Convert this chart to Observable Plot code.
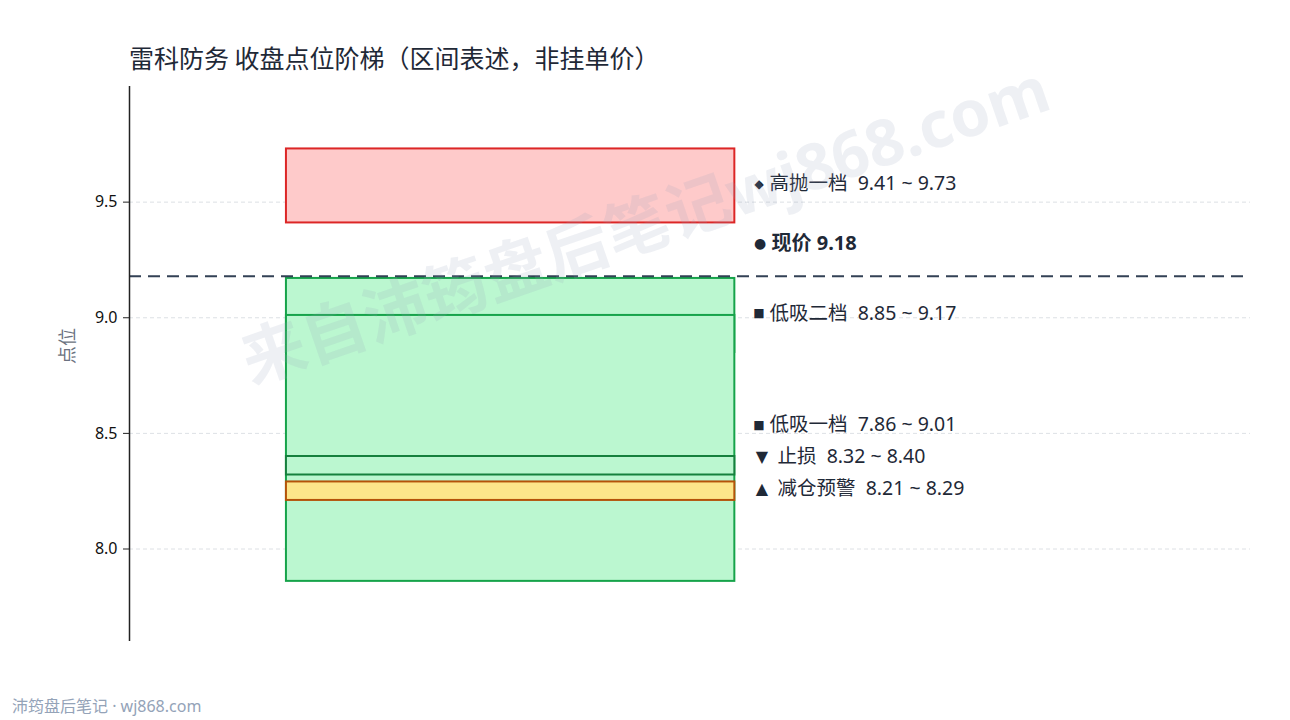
<!DOCTYPE html>
<html>
<head>
<meta charset="utf-8">
<script src="https://cdn.jsdelivr.net/npm/d3@7"></script>
<script src="https://cdn.jsdelivr.net/npm/@observablehq/plot@0.6"></script>
<style>
  html, body { margin: 0; padding: 0; background: #fff; }
  body { width: 1290px; height: 720px; position: relative; overflow: hidden;
         font-family: "Noto Sans", "Noto Sans CJK SC", sans-serif; }
  #title { position: absolute; left: 129px; top: 40px; font-size: 25px; color: #1f2937; line-height: 34px; white-space: pre;
           font-family: "Noto Sans CJK SC", sans-serif; }
  #chart { position: absolute; left: 0; top: 76px; }
  #footer { position: absolute; left: 12px; top: 695px; font-size: 16px; color: #94a3b8; line-height: 22px; white-space: pre; }
</style>
</head>
<body>
<div id="title">雷科防务 收盘点位阶梯（区间表述，非挂单价）</div>
<div id="chart"></div>
<div id="footer">沛筠盘后笔记 · wj868.com</div>
<script>
// ---- data ----
const zoneNames   = ["高抛一档", "低吸二档", "低吸一档", "止损", "减仓预警"];
const zoneLows    = [9.41, 8.85, 7.86, 8.32, 8.21];
const zoneHighs   = [9.73, 9.17, 9.01, 8.40, 8.29];
const zoneMarkers = ["◆", "■", "■", "▼", "▲"];
const zoneFills   = ["#fecaca", "#bbf7d0", "#bbf7d0", "#bbf7d0", "#fde68a"];
const zoneStrokes = ["#dc2626", "#16a34a", "#16a34a", "#15803d", "#b45309"];
const currentPrice = 9.18;
const currentMarker = "●";
const yTicks = [8.0, 8.5, 9.0, 9.5];
const yDomain = [7.6, 10.0];
const watermark = "来自沛筠盘后笔记wj868.com";

// ---- layout constants ----
const W = 1290, H = 600, mT = 10, mB = 35, mL = 129, mR = 40;
const pxPerUnit = (H - mT - mB) / (yDomain[1] - yDomain[0]);
const minGapPx = 32;
const isTri = m => m === "▼" || m === "▲";
const markerSize = { "◆": 12, "■": 12, "▼": 16, "▲": 16, "●": 14 };
const sp = "\u00a0\u00a0";

const zones = zoneNames.map((name, i) => ({
  name, low: zoneLows[i], high: zoneHighs[i], marker: zoneMarkers[i],
  fill: zoneFills[i], stroke: zoneStrokes[i],
  label: `${name}${sp}${zoneLows[i].toFixed(2)} ~ ${zoneHighs[i].toFixed(2)}`,
  mid: (zoneLows[i] + zoneHighs[i]) / 2
}));

// de-overlap labels: push upward from the bottom
const sorted = zones.slice().sort((a, b) => a.mid - b.mid);
const gap = minGapPx / pxPerUnit;
sorted.forEach((d, i) => {
  d.ly = i === 0 ? d.mid : Math.max(d.mid, sorted[i - 1].ly + gap);
});

const font = "Noto Sans, Noto Sans CJK SC, sans-serif";
const LX = 0.558;

const chart = Plot.plot({
  width: W, height: H,
  marginTop: mT, marginBottom: mB, marginLeft: mL, marginRight: mR,
  style: { fontFamily: font, fontSize: "15px", color: "#111", background: "transparent" },
  x: { domain: [0, 1], axis: null },
  y: { domain: yDomain, label: null, axis: null },
  color: { type: "identity" },
  marks: [
    Plot.gridY(yTicks, { stroke: "#d1d5db", strokeOpacity: 0.75, strokeDasharray: "4,3", strokeWidth: 1 }),
    Plot.rect(zones, { x1: () => 0.14, x2: () => 0.54, y1: "low", y2: "high", fill: "fill", stroke: "stroke", strokeWidth: 2 }),
    Plot.ruleY([currentPrice], { stroke: "#334155", strokeWidth: 2, strokeDasharray: "12,7" }),
    Plot.axisY(yTicks, { tickSize: 6, tickPadding: 6, tickFormat: d3.format(".1f"), fontSize: 16, fill: "#111", stroke: "#222", label: null }),
    Plot.ruleX([0], { stroke: "#222", strokeWidth: 1.5 }),
    // markers
    Plot.text(zones, { x: () => LX, y: "ly", text: "marker", fontSize: d => markerSize[d.marker],
      dx: 4, dy: -2, fontFamily: "DejaVu Sans", fill: "#1f2937", filter: d => !isTri(d.marker) }),
    Plot.text(zones, { x: () => LX, y: "ly", text: "marker", fontSize: d => markerSize[d.marker],
      dx: 7, dy: -2, fontFamily: "DejaVu Sans", fill: "#1f2937", filter: d => isTri(d.marker) }),
    // labels
    Plot.text(zones, { x: () => LX, y: "ly", text: "label", textAnchor: "start", dx: 14.5, dy: -2, fontSize: 19.5, fill: "#1f2937", filter: d => !isTri(d.marker) }),
    Plot.text(zones, { x: () => LX, y: "ly", text: "label", textAnchor: "start", dx: 22.5, dy: -2, fontSize: 19.5, fill: "#1f2937", filter: d => isTri(d.marker) }),
    // current price
    Plot.text([currentPrice], { x: () => LX, y: d => d, text: () => currentMarker, fontSize: markerSize[currentMarker], dx: 5, dy: -33, fontFamily: "DejaVu Sans", fill: "#1f2937" }),
    Plot.text([currentPrice], { x: () => LX, y: d => d, text: d => `现价 ${d.toFixed(2)}`, textAnchor: "start", dx: 16.5, dy: -33, fontSize: 20, fontWeight: "bold", fill: "#1f2937" }),
    Plot.text(["点位"], { frameAnchor: "left", dx: -61, rotate: -90, fontSize: 18, fill: "#6b7280" }),
    Plot.text([watermark], { frameAnchor: "middle", dx: -44, dy: -137, rotate: -19, fontSize: 64, fontWeight: "bold", fill: "#94a3b8", fillOpacity: 0.16 })
  ]
});
document.getElementById("chart").appendChild(chart);
</script>
</body>
</html>
